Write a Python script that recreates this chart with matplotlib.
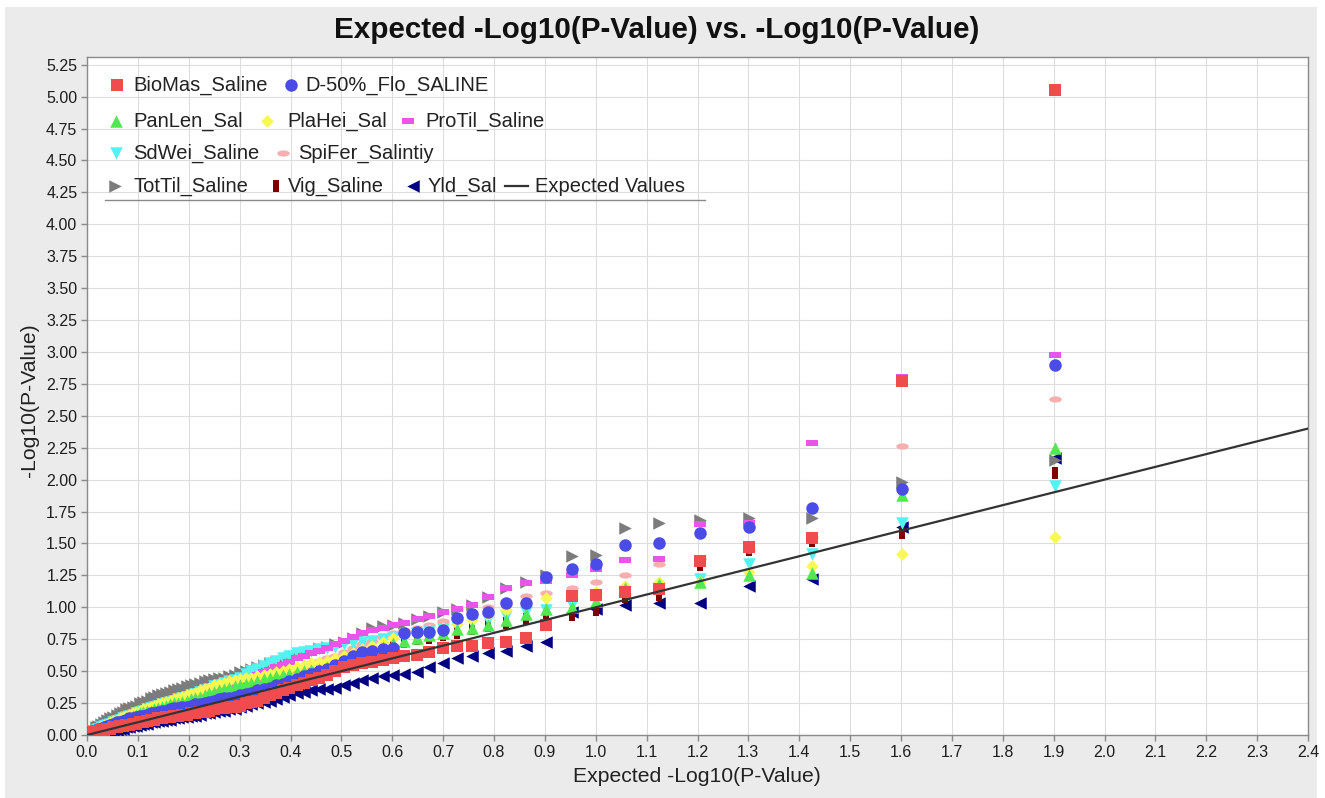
import matplotlib
matplotlib.use('Agg')
import numpy as np
from matplotlib import pyplot as plt
from matplotlib.lines import Line2D
from matplotlib.patches import Rectangle
from matplotlib.ticker import MultipleLocator, FormatStrFormatter

W, H = 1325, 798
plt.rcParams['font.family'] = ['Liberation Sans', 'DejaVu Sans']

# expected -log10(p) for ranks 1..80
EXPECTED = [1.903, 1.602, 1.426, 1.301, 1.204, 1.125, 1.058, 1.000, 0.954, 0.903,
            0.862, 0.824, 0.789, 0.757, 0.727, 0.699, 0.673, 0.648, 0.624, 0.602,
            0.581, 0.561, 0.541, 0.523, 0.505, 0.488, 0.472, 0.456, 0.441, 0.426,
            0.412, 0.398, 0.385, 0.372, 0.359, 0.347, 0.335, 0.323, 0.312, 0.301,
            0.290, 0.280, 0.270, 0.260, 0.250, 0.240, 0.231, 0.222, 0.213, 0.204,
            0.196, 0.187, 0.179, 0.171, 0.163, 0.155, 0.148, 0.140, 0.132, 0.125,
            0.118, 0.111, 0.104, 0.097, 0.090, 0.083, 0.077, 0.070, 0.064, 0.058,
            0.051, 0.046, 0.040, 0.034, 0.028, 0.022, 0.017, 0.011, 0.006, 0.000]

BIOMAS = [5.05, 2.77, 1.54, 1.47, 1.36, 1.14, 1.12, 1.10, 1.09, 0.86,
          0.76, 0.73, 0.72, 0.70, 0.70, 0.68, 0.65, 0.63, 0.62, 0.60,
          0.59, 0.57, 0.56, 0.55, 0.53, 0.50, 0.47, 0.45, 0.43, 0.41,
          0.39, 0.37, 0.35, 0.33, 0.31, 0.29, 0.27, 0.26, 0.25, 0.23,
          0.22, 0.22, 0.21, 0.21, 0.20, 0.19, 0.18, 0.18, 0.17, 0.17,
          0.16, 0.16, 0.15, 0.15, 0.14, 0.14, 0.13, 0.13, 0.12, 0.12,
          0.11, 0.10, 0.10, 0.09, 0.09, 0.08, 0.08, 0.07, 0.07, 0.06,
          0.06, 0.05, 0.05, 0.04, 0.04, 0.03, 0.03, 0.02, 0.01, 0.00]
D50FLO = [2.90, 1.93, 1.78, 1.63, 1.58, 1.50, 1.49, 1.34, 1.30, 1.24,
          1.03, 1.03, 0.96, 0.95, 0.92, 0.82, 0.81, 0.81, 0.80, 0.68,
          0.67, 0.66, 0.65, 0.62, 0.58, 0.55, 0.52, 0.50, 0.48, 0.46,
          0.44, 0.42, 0.40, 0.39, 0.37, 0.36, 0.35, 0.33, 0.32, 0.31,
          0.30, 0.29, 0.29, 0.28, 0.27, 0.26, 0.25, 0.24, 0.24, 0.23,
          0.22, 0.22, 0.21, 0.21, 0.20, 0.19, 0.19, 0.18, 0.17, 0.17,
          0.16, 0.15, 0.15, 0.14, 0.13, 0.13, 0.12, 0.11, 0.10, 0.10,
          0.09, 0.08, 0.07, 0.06, 0.05, 0.05, 0.04, 0.03, 0.02, 0.01]
PANLEN = [2.25, 1.88, 1.27, 1.25, 1.20, 1.18, 1.15, 1.05, 1.00, 0.99,
          0.95, 0.90, 0.86, 0.84, 0.83, 0.80, 0.78, 0.76, 0.74, 0.72,
          0.69, 0.66, 0.63, 0.60, 0.57, 0.54, 0.53, 0.52, 0.51, 0.50,
          0.49, 0.48, 0.47, 0.46, 0.45, 0.44, 0.42, 0.41, 0.40, 0.39,
          0.38, 0.37, 0.36, 0.35, 0.34, 0.33, 0.31, 0.30, 0.29, 0.28,
          0.27, 0.26, 0.25, 0.25, 0.24, 0.23, 0.22, 0.21, 0.20, 0.19,
          0.19, 0.18, 0.17, 0.16, 0.15, 0.14, 0.13, 0.12, 0.11, 0.10,
          0.09, 0.08, 0.07, 0.06, 0.05, 0.04, 0.03, 0.02, 0.01, 0.00]
PLAHEI = [1.55, 1.42, 1.32, 1.28, 1.20, 1.20, 1.17, 1.12, 1.08, 1.07,
          1.03, 0.98, 0.94, 0.90, 0.87, 0.84, 0.82, 0.80, 0.78, 0.76,
          0.73, 0.70, 0.67, 0.64, 0.62, 0.60, 0.58, 0.57, 0.56, 0.55,
          0.53, 0.52, 0.50, 0.49, 0.48, 0.47, 0.46, 0.45, 0.45, 0.44,
          0.43, 0.42, 0.41, 0.40, 0.39, 0.37, 0.36, 0.35, 0.33, 0.32,
          0.31, 0.30, 0.29, 0.28, 0.27, 0.26, 0.25, 0.24, 0.23, 0.22,
          0.21, 0.20, 0.19, 0.18, 0.17, 0.16, 0.15, 0.14, 0.13, 0.12,
          0.11, 0.10, 0.09, 0.08, 0.07, 0.05, 0.04, 0.03, 0.02, 0.01]
PROTIL = [2.98, 2.80, 2.29, 1.66, 1.65, 1.38, 1.37, 1.30, 1.25, 1.21,
          1.19, 1.15, 1.08, 1.02, 0.99, 0.96, 0.93, 0.91, 0.88, 0.86,
          0.84, 0.82, 0.80, 0.77, 0.74, 0.71, 0.68, 0.66, 0.64, 0.62,
          0.60, 0.57, 0.55, 0.53, 0.51, 0.49, 0.47, 0.45, 0.43, 0.42,
          0.40, 0.39, 0.37, 0.36, 0.34, 0.33, 0.31, 0.30, 0.28, 0.27,
          0.25, 0.25, 0.24, 0.23, 0.22, 0.21, 0.20, 0.20, 0.19, 0.18,
          0.17, 0.16, 0.16, 0.15, 0.14, 0.13, 0.12, 0.11, 0.10, 0.10,
          0.09, 0.08, 0.07, 0.06, 0.05, 0.04, 0.03, 0.02, 0.02, 0.01]
SDWEI = [1.95, 1.66, 1.42, 1.34, 1.22, 1.15, 1.12, 1.07, 1.02, 0.98,
         0.96, 0.93, 0.90, 0.88, 0.85, 0.83, 0.81, 0.79, 0.77, 0.76,
         0.75, 0.74, 0.73, 0.72, 0.71, 0.69, 0.68, 0.67, 0.66, 0.65,
         0.64, 0.62, 0.60, 0.58, 0.56, 0.54, 0.52, 0.50, 0.48, 0.45,
         0.43, 0.42, 0.41, 0.39, 0.38, 0.36, 0.35, 0.34, 0.32, 0.31,
         0.30, 0.29, 0.28, 0.27, 0.26, 0.25, 0.24, 0.23, 0.22, 0.21,
         0.20, 0.19, 0.18, 0.17, 0.16, 0.15, 0.14, 0.13, 0.12, 0.11,
         0.10, 0.09, 0.08, 0.07, 0.06, 0.05, 0.04, 0.03, 0.02, 0.01]
SPIFER = [2.63, 2.26, 1.55, 1.45, 1.38, 1.34, 1.25, 1.20, 1.15, 1.11,
          1.09, 1.05, 1.00, 0.96, 0.92, 0.89, 0.86, 0.84, 0.82, 0.80,
          0.77, 0.74, 0.71, 0.68, 0.65, 0.62, 0.60, 0.58, 0.56, 0.54,
          0.52, 0.50, 0.48, 0.47, 0.45, 0.44, 0.42, 0.41, 0.39, 0.38,
          0.36, 0.35, 0.34, 0.33, 0.32, 0.31, 0.30, 0.29, 0.28, 0.27,
          0.26, 0.25, 0.24, 0.24, 0.23, 0.22, 0.21, 0.20, 0.20, 0.19,
          0.18, 0.17, 0.16, 0.15, 0.14, 0.13, 0.12, 0.11, 0.11, 0.10,
          0.09, 0.08, 0.07, 0.06, 0.05, 0.04, 0.03, 0.02, 0.01, 0.00]
TOTTIL = [2.15, 1.98, 1.70, 1.70, 1.68, 1.66, 1.62, 1.41, 1.40, 1.25,
          1.20, 1.15, 1.08, 1.02, 0.99, 0.96, 0.93, 0.91, 0.88, 0.86,
          0.85, 0.84, 0.80, 0.76, 0.73, 0.71, 0.69, 0.68, 0.66, 0.64,
          0.62, 0.60, 0.58, 0.57, 0.56, 0.55, 0.53, 0.52, 0.50, 0.49,
          0.47, 0.46, 0.45, 0.45, 0.44, 0.43, 0.42, 0.41, 0.40, 0.39,
          0.38, 0.37, 0.36, 0.35, 0.34, 0.33, 0.32, 0.31, 0.30, 0.29,
          0.27, 0.26, 0.25, 0.23, 0.22, 0.21, 0.20, 0.18, 0.17, 0.16,
          0.14, 0.13, 0.12, 0.10, 0.09, 0.07, 0.06, 0.04, 0.03, 0.02]
VIG = [2.05, 1.58, 1.52, 1.45, 1.33, 1.10, 1.08, 0.98, 0.94, 0.92,
       0.91, 0.88, 0.85, 0.83, 0.80, 0.78, 0.76, 0.75, 0.73, 0.72,
       0.69, 0.66, 0.63, 0.60, 0.58, 0.55, 0.53, 0.51, 0.49, 0.47,
       0.45, 0.44, 0.42, 0.41, 0.40, 0.38, 0.37, 0.36, 0.35, 0.33,
       0.32, 0.31, 0.30, 0.30, 0.29, 0.28, 0.27, 0.26, 0.25, 0.25,
       0.24, 0.23, 0.22, 0.22, 0.21, 0.20, 0.19, 0.18, 0.18, 0.17,
       0.16, 0.15, 0.14, 0.13, 0.12, 0.12, 0.11, 0.10, 0.09, 0.08,
       0.07, 0.07, 0.06, 0.05, 0.04, 0.03, 0.02, 0.02, 0.01, 0.00]
YLD = [2.17, 1.63, 1.22, 1.17, 1.03, 1.03, 1.02, 0.99, 0.96, 0.73,
       0.70, 0.66, 0.64, 0.62, 0.60, 0.56, 0.53, 0.49, 0.48, 0.47,
       0.46, 0.45, 0.43, 0.41, 0.39, 0.37, 0.36, 0.36, 0.35, 0.34,
       0.33, 0.31, 0.30, 0.28, 0.27, 0.26, 0.25, 0.24, 0.23, 0.22,
       0.20, 0.20, 0.19, 0.19, 0.18, 0.17, 0.17, 0.16, 0.15, 0.15,
       0.14, 0.14, 0.13, 0.13, 0.12, 0.12, 0.11, 0.11, 0.10, 0.10,
       0.09, 0.09, 0.08, 0.07, 0.07, 0.06, 0.06, 0.05, 0.05, 0.04,
       0.04, 0.03, 0.03, 0.02, 0.02, 0.02, 0.01, 0.01, 0.00, 0.00]

NAMES = ["BioMas_Saline", "D-50%_Flo_SALINE", "PanLen_Sal", "PlaHei_Sal",
         "ProTil_Saline", "SdWei_Saline", "SpiFer_Salintiy", "TotTil_Saline",
         "Vig_Saline", "Yld_Sal"]
VALUES = [BIOMAS, D50FLO, PANLEN, PLAHEI, PROTIL, SDWEI, SPIFER, TOTTIL, VIG, YLD]

COLORS = ["#F04B4E",  # red
          "#4B4BE8",  # blue
          "#52E852",  # green
          "#F8F852",  # yellow
          "#E955E9",  # magenta
          "#55F2F2",  # cyan
          "#F5AFAF",  # pink
          "#7C7C7C",  # gray
          "#800000",  # dark red
          "#000080"]  # dark blue

ellipse = [(np.cos(t), 0.5 * np.sin(t)) for t in np.linspace(0, 2 * np.pi, 40)]
MARKERS = [[(-1, -1), (1, -1), (1, 1), (-1, 1)],
           'o',
           [(0, 1), (1, -1), (-1, -1)],
           [(0, 1), (1, 0), (0, -1), (-1, 0)],
           [(-1, -0.5), (1, -0.5), (1, 0.5), (-1, 0.5)],
           [(0, -1), (1, 1), (-1, 1)],
           ellipse,
           [(-1, 1), (1, 0), (-1, -1)],
           [(-0.5, -1), (0.5, -1), (0.5, 1), (-0.5, 1)],
           [(1, 1), (-1, 0), (1, -1)]]
MSIZE = 9


def px(x, y):
    return x / W, 1 - y / H


fig = plt.figure(figsize=(W / 100, H / 100), dpi=100)
fig.patch.set_facecolor("white")
fig.add_artist(Rectangle(px(5, 798), 1312 / W, 791 / H, transform=fig.transFigure,
                         facecolor="#EBEBEB", edgecolor="none", zorder=-10))

ax = fig.add_axes([87 / W, 1 - 735 / H, (1308 - 87) / W, (735 - 57) / H])
ax.set_facecolor("white")
ax.set_xlim(0, 2.4)
ax.set_ylim(0, 5.31)
ax.xaxis.set_major_locator(MultipleLocator(0.1))
ax.yaxis.set_major_locator(MultipleLocator(0.25))
ax.xaxis.set_major_formatter(FormatStrFormatter('%.1f'))
ax.yaxis.set_major_formatter(FormatStrFormatter('%.2f'))
ax.grid(True, color="#DDDDDD", linewidth=0.8)
ax.set_axisbelow(True)
for s in ax.spines.values():
    s.set_color("#8A8A8A")
    s.set_linewidth(1.0)
ax.tick_params(direction="out", length=4, width=1, color="#8A8A8A",
               labelsize=11.5, labelcolor="#1E1E1E", pad=3)

# reverse rendering order, first series on top
for i in reversed(range(len(NAMES))):
    ax.plot(EXPECTED, VALUES[i], linestyle="none", marker=MARKERS[i], markersize=MSIZE,
            markerfacecolor=COLORS[i], markeredgewidth=0, zorder=3)

ax.plot([0, 2.4], [0, 2.4], color="#333333", linewidth=1.6, zorder=4)

fig.text(*px(657, 30), "Expected -Log10(P-Value) vs. -Log10(P-Value)", ha="center", va="center",
         fontsize=21.3, fontweight="bold", color="#111111")
fig.text(*px(697, 776), "Expected -Log10(P-Value)", ha="center", va="center",
         fontsize=15.2, color="#222222")
fig.text(*px(30, 400), "-Log10(P-Value)", ha="center", va="center", rotation=90,
         fontsize=15.2, color="#222222")

# legend laid out in rows like the original
legend_rows = [[(0, 117, 133), (1, 291, 305)],
               [(2, 116, 133), (3, 267, 287), (4, 408, 425)],
               [(5, 116, 133), (6, 283, 298)],
               [(7, 115, 133), (8, 276, 288), (9, 413, 428)]]
row_y = [85, 121, 153, 186]
for row, y in zip(legend_rows, row_y):
    for idx, mx, tx in row:
        fig.add_artist(Line2D([mx / W], [1 - y / H], transform=fig.transFigure, linestyle="none",
                              marker=MARKERS[idx], markersize=MSIZE, markerfacecolor=COLORS[idx],
                              markeredgewidth=0))
        fig.text(*px(tx, y), NAMES[idx], ha="left", va="center", fontsize=14.5, color="#222222")
fig.add_artist(Line2D([505 / W, 528 / W], [1 - 186 / H] * 2, transform=fig.transFigure,
                      color="#333333", linewidth=1.6))
fig.text(*px(535, 186), "Expected Values", ha="left", va="center", fontsize=14.5, color="#222222")
fig.add_artist(Line2D([105 / W, 705 / W], [1 - 200 / H] * 2, transform=fig.transFigure,
                      color="#8A8A8A", linewidth=1.0))

fig.savefig("out.png", dpi=100)
